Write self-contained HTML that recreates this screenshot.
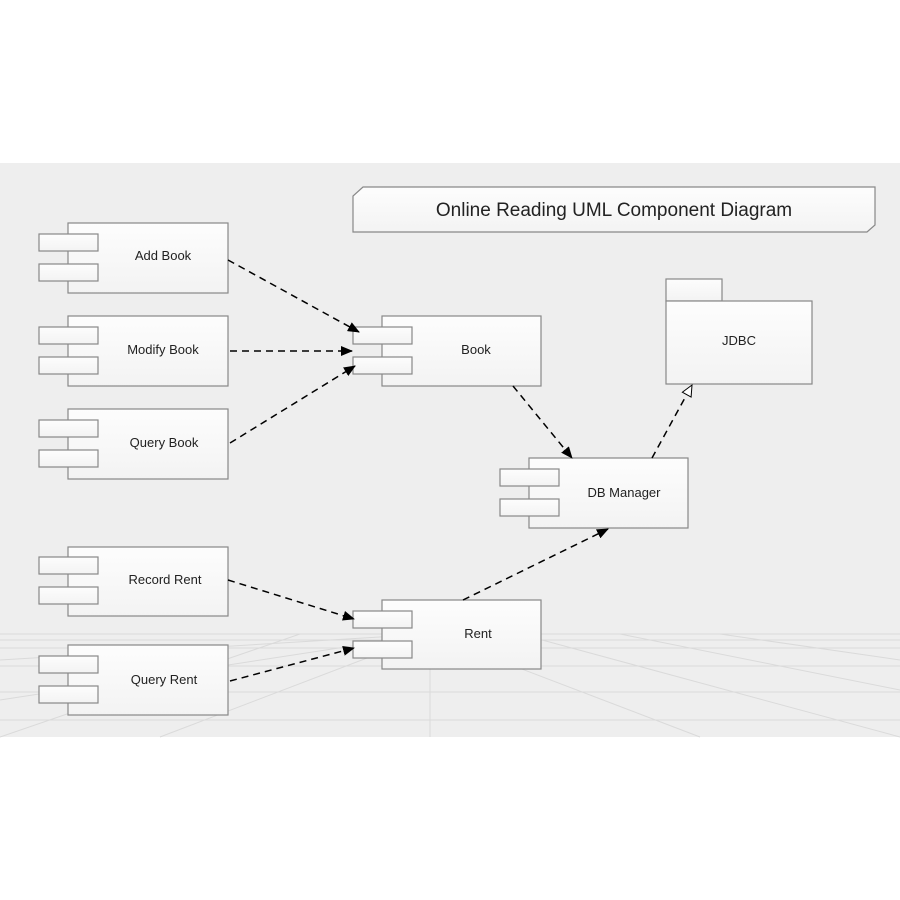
<!DOCTYPE html>
<html><head><style>html,body{margin:0;padding:0;background:#fff}svg{display:block}</style></head>
<body>
<svg width="900" height="900" viewBox="0 0 900 900" xmlns="http://www.w3.org/2000/svg" font-family="Liberation Sans, Arial, sans-serif">
<defs>
<marker id="a" markerWidth="12" markerHeight="10" refX="11" refY="5" orient="auto" markerUnits="userSpaceOnUse"><path d="M0,0 L12,5 L0,10 Z" fill="#000"/></marker>
<marker id="h" markerWidth="13" markerHeight="12" refX="12" refY="6" orient="auto" markerUnits="userSpaceOnUse"><path d="M1,1 L12,6 L1,11 Z" fill="#fff" stroke="#000" stroke-width="1"/></marker>
<linearGradient id="g" x1="0" y1="0" x2="0" y2="1"><stop offset="0" stop-color="#fdfdfd"/><stop offset="1" stop-color="#f3f3f3"/></linearGradient>
</defs>
<rect x="0" y="163" width="900" height="574" fill="#eeeeee"/>
<g stroke="#dadada" stroke-width="1" fill="none">
<line x1="0" y1="634" x2="900" y2="634"/><line x1="0" y1="640" x2="900" y2="640"/><line x1="0" y1="648" x2="900" y2="648"/>
<line x1="0" y1="666" x2="900" y2="666"/><line x1="0" y1="692" x2="900" y2="692"/><line x1="0" y1="720" x2="900" y2="720"/>
<line x1="430" y1="634" x2="430" y2="737"/>
<line x1="430" y1="634" x2="160" y2="737"/><line x1="430" y1="634" x2="0" y2="700"/><line x1="430" y1="634" x2="0" y2="660"/>
<line x1="430" y1="634" x2="700" y2="737"/><line x1="520" y1="634" x2="900" y2="737"/><line x1="620" y1="634" x2="900" y2="690"/><line x1="720" y1="634" x2="900" y2="660"/>
<line x1="300" y1="634" x2="0" y2="737"/>
</g>
<g stroke="#888" stroke-width="1.2" fill="url(#g)">
<path d="M363,187 L875,187 L875,225 L867,232 L353,232 L353,196 Z"/>
<rect x="68" y="223" width="160" height="70"/><rect x="39" y="234" width="59" height="17"/><rect x="39" y="264" width="59" height="17"/>
<rect x="68" y="316" width="160" height="70"/><rect x="39" y="327" width="59" height="17"/><rect x="39" y="357" width="59" height="17"/>
<rect x="68" y="409" width="160" height="70"/><rect x="39" y="420" width="59" height="17"/><rect x="39" y="450" width="59" height="17"/>
<rect x="382" y="316" width="159" height="70"/><rect x="353" y="327" width="59" height="17"/><rect x="353" y="357" width="59" height="17"/>
<rect x="529" y="458" width="159" height="70"/><rect x="500" y="469" width="59" height="17"/><rect x="500" y="499" width="59" height="17"/>
<rect x="68" y="547" width="160" height="69"/><rect x="39" y="557" width="59" height="17"/><rect x="39" y="587" width="59" height="17"/>
<rect x="382" y="600" width="159" height="69"/><rect x="353" y="611" width="59" height="17"/><rect x="353" y="641" width="59" height="17"/>
<rect x="68" y="645" width="160" height="70"/><rect x="39" y="656" width="59" height="17"/><rect x="39" y="686" width="59" height="17"/>
<rect x="666" y="279" width="56" height="22"/><rect x="666" y="301" width="146" height="83"/>
</g>
<g stroke="#000" stroke-width="1.5" stroke-dasharray="7,5" fill="none">
<line x1="228" y1="260" x2="359" y2="332" marker-end="url(#a)"/>
<line x1="230" y1="351" x2="352" y2="351" marker-end="url(#a)"/>
<line x1="230" y1="443" x2="355" y2="366" marker-end="url(#a)"/>
<line x1="513" y1="386" x2="572" y2="458" marker-end="url(#a)"/>
<line x1="652" y1="458" x2="692" y2="385" marker-end="url(#h)"/>
<line x1="228" y1="580" x2="354" y2="619" marker-end="url(#a)"/>
<line x1="230" y1="681" x2="354" y2="648" marker-end="url(#a)"/>
<line x1="463" y1="600" x2="608" y2="529" marker-end="url(#a)"/>
</g>
<g fill="#222" font-size="13" text-anchor="middle">
<text x="614" y="216" font-size="19">Online Reading UML Component Diagram</text>
<text x="163" y="260">Add Book</text>
<text x="163" y="354">Modify Book</text>
<text x="164" y="447">Query  Book</text>
<text x="476" y="354">Book</text>
<text x="624" y="497">DB Manager</text>
<text x="739" y="345">JDBC</text>
<text x="165" y="584">Record Rent</text>
<text x="478" y="638">Rent</text>
<text x="164" y="684">Query Rent</text>
</g>
</svg>
</body></html>
